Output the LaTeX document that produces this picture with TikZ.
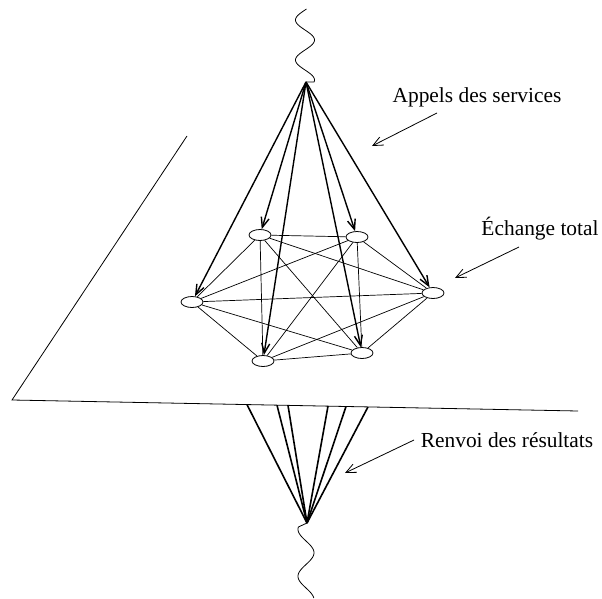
\documentclass[tikz,border=0pt]{standalone}
\usepackage{fontspec}
\setmainfont{Liberation Serif}
\usetikzlibrary{shapes.geometric,arrows.meta}

\begin{document}
\begin{tikzpicture}[x=1pt,y=-1pt,
  proc/.style={draw,ellipse,minimum width=22pt,minimum height=11pt,inner sep=0pt,line width=0.8pt},
  call/.style={line width=1.4pt,-{Straight Barb[length=10pt,width=8pt]}},
  link/.style={line width=0.7pt},
  back/.style={line width=1.6pt},
  note/.style={line width=0.8pt,-{Straight Barb[length=10pt,width=9pt]}},
  lbl/.style={font=\fontsize{21.4}{25}\selectfont,anchor=base}]
  \useasboundingbox (0,0) rectangle (602,599);
  % plan
  \coordinate (pa) at (187,136);
  \coordinate (pb) at (12,400);
  \coordinate (pc) at (578,411);
  \draw[line width=0.8pt] (pa) -- (pb) -- (pc);
  % processus
  \node[proc] (p1) at (260,235) {};
  \node[proc] (p2) at (357,237) {};
  \node[proc] (p3) at (433,293) {};
  \node[proc] (p4) at (362,353) {};
  \node[proc] (p5) at (263,361) {};
  \node[proc] (p6) at (192,302) {};
  \coordinate (top) at (306,82);
  \coordinate (bot) at (307,523);
  % fils d'entree et de sortie
  \draw[line width=0.8pt] plot[domain=9:82,samples=80,smooth] ({305-9.5*sin(9*(\x-10))},{\x}) -- (top);
  \draw[line width=0.8pt] (bot) -- plot[domain=527:598,samples=80,smooth] ({306+8*sin(360/47*(\x-541))},{\x});
  % appels
  \foreach \n in {1,...,6}
    \draw[call] (top) -- (p\n);
  % echange total
  \foreach \i in {1,...,5} {
    \pgfmathtruncatemacro\k{\i+1}
    \foreach \j in {\k,...,6}
      \draw[link] (p\i) -- (p\j);
  }
  % renvoi
  \coordinate (r1) at (247,404.6);
  \coordinate (r2) at (277,405.2);
  \coordinate (r3) at (288,405.4);
  \coordinate (r4) at (328,406.1);
  \coordinate (r5) at (346,406.5);
  \coordinate (r6) at (368,406.9);
  \foreach \n in {1,...,6}
    \draw[back] (r\n) -- (bot);
  % legendes
  \node[lbl] (t1) at (477,103) {Appels des services};
  \node[lbl] (t2) at (540,235) {Échange total};
  \node[lbl] (t3) at (507,447) {Renvoi des résultats};
  \coordinate (a1) at (437,113);
  \coordinate (b1) at (372,146);
  \coordinate (a2) at (519,247);
  \coordinate (b2) at (455,278);
  \coordinate (a3) at (414,440);
  \coordinate (b3) at (345,473);
  \draw[note] (a1) -- (b1);
  \draw[note] (a2) -- (b2);
  \draw[note] (a3) -- (b3);
\end{tikzpicture}
\end{document}
